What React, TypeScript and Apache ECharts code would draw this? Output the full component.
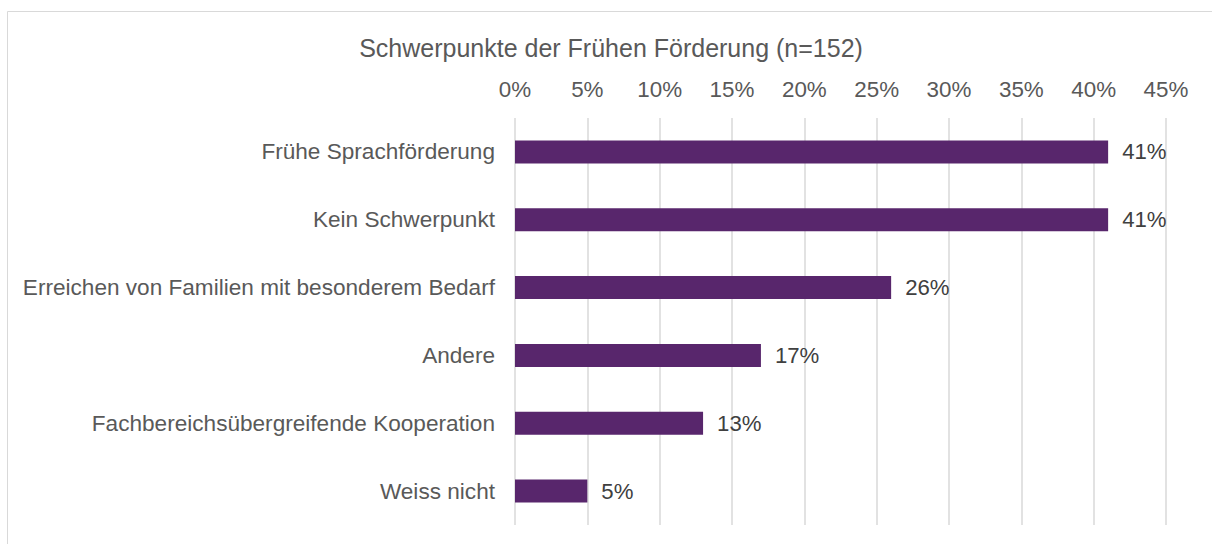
import React, { useEffect, useRef } from "react";
import * as echarts from "echarts";

const categories = [
  "Frühe Sprachförderung",
  "Kein Schwerpunkt",
  "Erreichen von Familien mit besonderem Bedarf",
  "Andere",
  "Fachbereichsübergreifende Kooperation",
  "Weiss nicht",
];
const values = [41, 41, 26, 17, 13, 5];
const titleText = "Schwerpunkte der Frühen Förderung (n=152)";
const axisMax = 45;
const axisInterval = 5;

export default function App() {
  const ref = useRef<HTMLDivElement>(null);
  useEffect(() => {
    if (!ref.current) return;
    const chart = echarts.init(ref.current, null, { renderer: "svg" });
    const font = "'Liberation Sans', Arial, sans-serif";
    chart.setOption({
      animation: false,
      backgroundColor: "#ffffff",
      title: {
        text: titleText,
        left: 606,
        top: 30,
        textAlign: "center",
        textStyle: { fontFamily: font, fontSize: 25, fontWeight: "normal", color: "#595959" },
      },
      graphic: [
        {
          type: "rect",
          shape: { x: 7.5, y: 11.5, width: 1300, height: 700 },
          style: { fill: "none", stroke: "#d9d9d9", lineWidth: 1 },
          silent: true,
        },
      ],
      grid: { left: 515, right: 46, top: 118, bottom: 19, containLabel: false },
      xAxis: {
        type: "value",
        position: "top",
        min: 0,
        max: axisMax,
        interval: axisInterval,
        axisLine: { show: false },
        axisTick: { show: false },
        axisLabel: {
          margin: 18,
          formatter: (v: number) => v + "%",
          fontFamily: font,
          fontSize: 22.4,
          color: "#595959",
        },
        splitLine: { show: true, lineStyle: { color: "#d9d9d9", width: 1.5 } },
      },
      yAxis: {
        type: "category",
        data: categories,
        inverse: true,
        axisLine: { show: false },
        axisTick: { show: false },
        axisLabel: { margin: 20, fontFamily: font, fontSize: 22.6, color: "#595959" },
      },
      series: [
        {
          type: "bar",
          data: values,
          barWidth: 23,
          itemStyle: { color: "#58266c" },
          label: {
            show: true,
            position: "right",
            distance: 14,
            formatter: (p: any) => p.value + "%",
            fontFamily: font,
            fontSize: 22.2,
            color: "#404040",
          },
        },
      ],
    });
    return () => chart.dispose();
  }, []);
  return (
    <div
      ref={ref}
      style={{ position: "fixed", left: 0, top: 0, width: 1212, height: 544 }}
    />
  );
}
